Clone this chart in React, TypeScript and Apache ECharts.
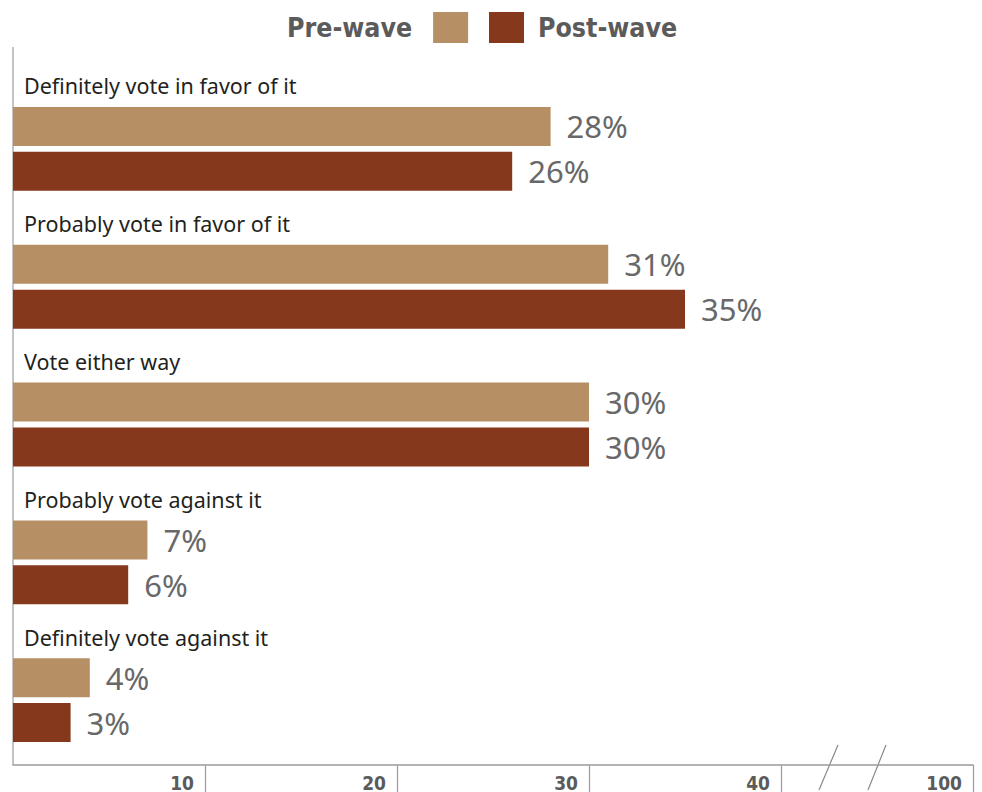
import React, { useEffect, useRef } from "react";
import * as echarts from "echarts";

const categories = [
  "Definitely vote in favor of it",
  "Probably vote in favor of it",
  "Vote either way",
  "Probably vote against it",
  "Definitely vote against it",
];
const preWave = [28, 31, 30, 7, 4];
const postWave = [26, 35, 30, 6, 3];
const tickValues = [10, 20, 30, 40, 50];
const tickLabels = ["10", "20", "30", "40", "100"];

const TAN = "#b68f64";
const RUST = "#86381d";
const GRAY = "#5b5b5b";

export default function App() {
  const ref = useRef<HTMLDivElement>(null);
  useEffect(() => {
    if (!ref.current) return;
    const chart = echarts.init(ref.current, null, { renderer: "svg" });
    const valueLabel = {
      show: true,
      position: "right",
      distance: 16,
      formatter: "{c}%",
      fontFamily: "Noto Sans",
      fontSize: 31,
      color: "#686868",
    };
    const legendText = {
      fontFamily: "DejaVu Sans Condensed",
      fontWeight: "bold",
      fontSize: 26.5,
      color: GRAY,
    };
    chart.setOption({
      animation: false,
      backgroundColor: "#ffffff",
      legend: [
        {
          data: ["Pre-wave"],
          left: 287,
          top: 12,
          padding: 0,
          align: "right",
          itemWidth: 35,
          itemHeight: 31,
          icon: "rect",
          textStyle: { ...legendText, padding: [0, 16, 0, 0] },
        },
        {
          data: ["Post-wave"],
          left: 489,
          top: 12,
          padding: 0,
          align: "left",
          itemWidth: 35,
          itemHeight: 31,
          icon: "rect",
          textStyle: { ...legendText, padding: [0, 0, 0, 9] },
        },
      ],
      grid: { left: 13, right: 9, top: 80, bottom: 23, containLabel: false },
      xAxis: {
        type: "value",
        min: 0,
        max: 50,
        interval: 10,
        offset: -4,
        axisLine: { show: true, lineStyle: { color: "#9a9a9a", width: 1.5 } },
        axisTick: {
          show: true,
          customValues: tickValues,
          length: 31,
          lineStyle: { color: "#9a9a9a", width: 1.2 },
        },
        axisLabel: {
          customValues: tickValues,
          align: "right",
          verticalAlign: "top",
          margin: 8,
          padding: [0, 11, 0, 0],
          fontFamily: "DejaVu Sans Condensed",
          fontWeight: "bold",
          fontSize: 19,
          color: GRAY,
          formatter: (v: number) => {
            const i = tickValues.indexOf(v);
            return i >= 0 ? tickLabels[i] : "";
          },
        },
        splitLine: { show: false },
      },
      yAxis: {
        type: "category",
        inverse: true,
        data: categories,
        axisLine: { show: false },
        axisTick: { show: false },
        axisLabel: {
          inside: true,
          margin: 11,
          align: "left",
          verticalAlign: "bottom",
          padding: [0, 0, 52, 0],
          fontFamily: "Noto Sans",
          fontSize: 21.5,
          color: "#231f20",
        },
      },
      series: [
        {
          name: "Pre-wave",
          type: "bar",
          data: preWave,
          barWidth: 39,
          barGap: "15%",
          itemStyle: { color: TAN },
          label: valueLabel,
        },
        {
          name: "Post-wave",
          type: "bar",
          data: postWave,
          barWidth: 39,
          barGap: "15%",
          itemStyle: { color: RUST },
          label: valueLabel,
        },
      ],
      graphic: [
        {
          type: "line",
          shape: { x1: 13, y1: 47, x2: 13, y2: 765 },
          style: { stroke: "#b0b0b0", lineWidth: 1.5 },
        },
        {
          type: "line",
          shape: { x1: 819, y1: 790, x2: 838, y2: 745 },
          style: { stroke: "#8a8a8a", lineWidth: 1.2 },
        },
        {
          type: "line",
          shape: { x1: 868, y1: 790, x2: 886, y2: 745 },
          style: { stroke: "#8a8a8a", lineWidth: 1.2 },
        },
      ],
    });
    return () => chart.dispose();
  }, []);
  return (
    <div
      ref={ref}
      style={{ position: "fixed", left: 0, top: 0, width: 982, height: 792 }}
    />
  );
}
